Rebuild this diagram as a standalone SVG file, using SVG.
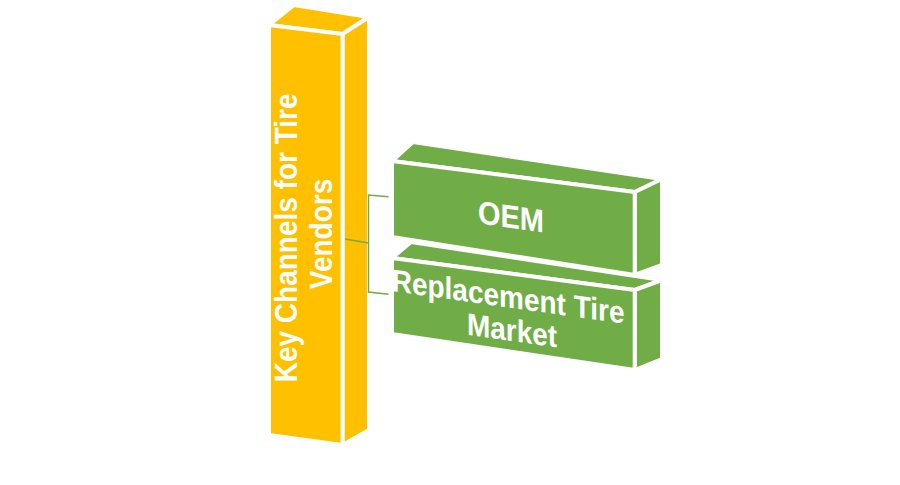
<svg xmlns="http://www.w3.org/2000/svg" width="900" height="485" viewBox="0 0 900 485">
  <style>
    .y { fill: #FFC000; stroke: #FFFFFF; stroke-width: 4; stroke-linejoin: miter; }
    .g { fill: #70AD47; stroke: #FFFFFF; stroke-width: 4; stroke-linejoin: miter; }
    .lbl { font-family: "Liberation Sans", Arial, sans-serif; font-weight: bold; fill: #FFFFFF; text-anchor: middle; }
    .conn { fill: none; stroke: #70AD47; stroke-width: 1.5; }
  </style>
  <rect width="900" height="485" fill="#FFFFFF"/>

  <g id="node-key-channels">
    <polygon class="y" points="269,25 294,5 369,17 342.5,34"/>
    <polygon class="y" points="342.5,34 369,17 369,430 342.5,445"/>
    <polygon class="y" points="269,25 342.5,34 342.5,445 269,435"/>
  </g>

  <g id="connectors">
    <polyline class="conn" points="345,239 368.5,243"/>
    <polyline class="conn" points="388.5,196.7 368.5,195 368.5,292 388.5,294.3"/>
  </g>

  <g id="key-channels-label">
    <text class="lbl" font-size="28" transform="translate(297,234) rotate(-90) scale(1,1.12)">
      <tspan x="0" y="0">Key Channels for Tire</tspan>
      <tspan x="0" y="31">Vendors</tspan>
    </text>
  </g>

  <g id="node-oem">
    <polygon class="g" points="392,161 413,142 662,179 634.7,192"/>
    <polygon class="g" points="634.7,192 662,179 662,265 634.7,275"/>
    <polygon class="g" points="392,161 634.7,192 634.7,275 392,237"/>
    <text class="lbl" font-size="29" transform="translate(511,228) skewY(8) scale(1,1.12)" x="0" y="0">OEM</text>
  </g>

  <g id="node-replacement">
    <polygon class="g" points="392,258 411,242 662,280 634.7,290"/>
    <polygon class="g" points="634.7,290 662,280 662,359 634.7,370"/>
    <polygon class="g" points="392,258 634.7,290 634.7,370 392,334"/>
    <text class="lbl" font-size="28" transform="translate(512,308) skewY(8) scale(1,1.12)">
      <tspan x="0" y="0">Replacement Tire</tspan>
      <tspan x="0" y="29.5">Market</tspan>
    </text>
  </g>
</svg>
